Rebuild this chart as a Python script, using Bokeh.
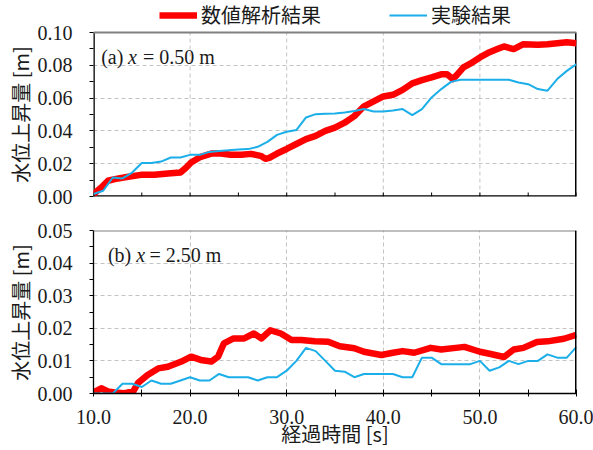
import math
from bokeh.plotting import figure
from bokeh.layouts import column, row
from bokeh.models import (FixedTicker, NumeralTickFormatter, Label, Legend,
                          LegendItem, Span, Range1d)
from bokeh.embed import file_html
from bokeh.resources import INLINE

# ---------------- data ----------------
# (a) x = 0.50 m
t_sim_a = [10.0, 10.8, 11.5, 12.2, 13.6, 14.9, 16.3, 17.7, 19.0, 19.6, 20.1, 21.1,
           22.2, 23.2, 24.2, 25.3, 26.3, 27.3, 27.8, 28.2, 29.0, 30.0, 31.0, 32.0,
           33.0, 34.0, 35.0, 36.0, 37.0, 38.0, 39.0, 40.0, 41.0, 42.0, 43.0, 44.0,
           45.0, 46.0, 46.6, 47.2, 47.6, 48.3, 49.0, 50.0, 51.0, 51.8, 52.5, 53.5,
           54.5, 56.0, 57.0, 58.0, 59.0, 60.0]
h_sim_a = [0.0015, 0.0055, 0.0096, 0.0106, 0.0120, 0.0132, 0.0132, 0.0140, 0.0146,
           0.0177, 0.0207, 0.0242, 0.0262, 0.0262, 0.0254, 0.0254, 0.0260, 0.0248,
           0.0230, 0.0236, 0.0262, 0.0290, 0.0320, 0.0350, 0.0370, 0.0400, 0.0420,
           0.0450, 0.0490, 0.0550, 0.0580, 0.0610, 0.0620, 0.0650, 0.0690, 0.0710,
           0.0726, 0.0745, 0.0746, 0.0716, 0.0740, 0.0787, 0.0810, 0.0848, 0.0880,
           0.0899, 0.0915, 0.0899, 0.0929, 0.0925, 0.0929, 0.0935, 0.0940, 0.0935]

t_exp = list(range(10, 61))
h_exp_a = [0.0015, 0.0035, 0.0116, 0.0110, 0.0146, 0.0204, 0.0204, 0.0213, 0.0238,
           0.0238, 0.0254, 0.0254, 0.0272, 0.0278, 0.0282, 0.0286, 0.0289, 0.0303,
           0.0333, 0.0376, 0.0395, 0.0405, 0.0482, 0.0502, 0.0505, 0.0506, 0.0512,
           0.0522, 0.0533, 0.0518, 0.0518, 0.0525, 0.0533, 0.0496, 0.0533, 0.0604,
           0.0655, 0.0699, 0.0712, 0.0712, 0.0712, 0.0712, 0.0712, 0.0712, 0.0695,
           0.0685, 0.0655, 0.0645, 0.0716, 0.0766, 0.0807]

# (b) x = 2.50 m
t_sim_b = [10.0, 10.8, 11.5, 12.2, 13.2, 14.1, 14.6, 15.6, 16.7, 17.7, 19.1, 20.1,
           21.1, 22.2, 22.9, 23.5, 24.5, 25.6, 26.6, 27.4, 28.3, 29.4, 30.5, 31.5,
           32.9, 34.3, 35.5, 37.0, 38.0, 39.8, 41.0, 42.0, 43.2, 44.9, 46.0, 47.5,
           48.4, 50.0, 51.0, 52.5, 53.5, 54.5, 55.9, 57.0, 58.7, 60.0]
h_sim_b = [0.0003, 0.0016, 0.0006, 0.0003, 0.0001, 0.0006, 0.0032, 0.0057, 0.0077,
           0.0082, 0.0098, 0.0113, 0.0103, 0.0098, 0.0113, 0.0154, 0.0169, 0.0169,
           0.0184, 0.0169, 0.0194, 0.0184, 0.0164, 0.0164, 0.0160, 0.0159, 0.0145,
           0.0139, 0.0128, 0.0118, 0.0125, 0.0130, 0.0125, 0.0140, 0.0135, 0.0140,
           0.0143, 0.0128, 0.0122, 0.0112, 0.0135, 0.0140, 0.0158, 0.0160, 0.0168,
           0.0180]
h_exp_b = [0.000, 0.000, 0.000, 0.003, 0.003, 0.002, 0.004, 0.003, 0.003, 0.004,
           0.005, 0.004, 0.004, 0.006, 0.005, 0.005, 0.005, 0.004, 0.005, 0.005,
           0.007, 0.010, 0.014, 0.013, 0.010, 0.007, 0.0067, 0.005, 0.006, 0.006,
           0.006, 0.006, 0.005, 0.005, 0.011, 0.011, 0.009, 0.009, 0.009, 0.009,
           0.010, 0.007, 0.008, 0.010, 0.009, 0.010, 0.010, 0.012, 0.011, 0.011,
           0.0143]

x_ticks = [10, 20, 30, 40, 50, 60]
x_minor = [15, 25, 35, 45, 55]
y_ticks_a = [0.00, 0.02, 0.04, 0.06, 0.08, 0.10]
y_minor_a = [0.01, 0.03, 0.05, 0.07, 0.09]
y_ticks_b = [0.00, 0.01, 0.02, 0.03, 0.04, 0.05]
y_minor_b = [0.005, 0.015, 0.025, 0.035, 0.045]

legend_labels = ["数値解析結果", "実験結果"]
y_title = "水位上昇量 [m]"
x_title = "経過時間 [s]"

RED = "#FF0000"
BLUE = "#1BAEE8"
SERIF = "Liberation Serif"
CJK = "Noto Sans CJK JP"
GRID = "#c4c4c4"
TXT = "#1a1a1a"

TW = 34          # width of the strip holding the vertical titles
PW = 593 - TW    # width of each panel figure
F = 164          # plotting area height of each panel (px)
LEG = 32         # room for the legend above the top panel (px)
GAP = 17         # border below panel (a) and above panel (b)
BOT = 57         # border under panel (b)
H1 = LEG + F + GAP
H2 = GAP + F + BOT - 1


def style_axes(p, yt, ym):
    p.outline_line_color = None
    p.background_fill_color = "white"
    p.border_fill_color = "white"
    p.xaxis.ticker = FixedTicker(ticks=x_ticks, minor_ticks=x_minor)
    p.yaxis.ticker = FixedTicker(ticks=yt, minor_ticks=ym)
    p.xaxis.formatter = NumeralTickFormatter(format="0.0")
    p.yaxis.formatter = NumeralTickFormatter(format="0.00")
    for ax in (p.xaxis, p.yaxis):
        ax.axis_line_color = "black"
        ax.axis_line_width = 1.3
        ax.major_tick_line_color = "black"
        ax.minor_tick_line_color = "black"
        ax.major_tick_line_width = 1
        ax.minor_tick_line_width = 1
        ax.major_label_text_font = SERIF
        ax.major_label_text_font_size = "20px"
        ax.major_label_text_color = TXT
    p.yaxis.major_tick_in = 0
    p.yaxis.major_tick_out = 4
    p.yaxis.minor_tick_in = 0
    p.yaxis.minor_tick_out = 4
    p.yaxis.major_label_standoff = 17
    p.ygrid.ticker = FixedTicker(ticks=yt[1:-1])
    p.ygrid.grid_line_color = GRID
    p.ygrid.grid_line_dash = "4 3"
    p.ygrid.grid_line_width = 1


def panel_label(p, ymax, tag, val, offs):
    common = dict(x=10, y=ymax, y_offset=-24, text_baseline="alphabetic",
                  text_font=SERIF, text_font_size="20px", text_color=TXT)
    p.add_layout(Label(x_offset=offs[0], text=tag, **common))
    p.add_layout(Label(x_offset=offs[1], text="x", text_font_style="italic", **common))
    p.add_layout(Label(x_offset=offs[2], text="= " + val, **common))


# ---------------- strip with the two vertical axis titles ----------------
pt = figure(width=TW, height=H1 + H2, x_range=Range1d(0, TW),
            y_range=Range1d(0, H1 + H2), output_backend="svg",
            toolbar_location=None, min_border=0)
pt.axis.visible = False
pt.grid.visible = False
pt.outline_line_color = None
for yc in (H2 + GAP + F / 2.0, H2 - GAP - F / 2.0):
    pt.add_layout(Label(x=20, y=yc, text=y_title, angle=math.pi / 2,
                        text_align="center", text_baseline="middle",
                        text_font=CJK, text_font_size="20px", text_color=TXT))

# ---------------- top panel (legend room included in its frame) ----------------
ymax_a = 0.10
ytop_a = ymax_a * (F + LEG) / F
p1 = figure(width=PW, height=H1,
            x_range=Range1d(10, 60), y_range=Range1d(0, ytop_a),
            output_backend="svg", toolbar_location=None,
            min_border_left=92 - TW, min_border_right=17,
            min_border_top=0, min_border_bottom=GAP)
style_axes(p1, y_ticks_a, y_minor_a)
p1.yaxis.axis_line_color = None
p1.xaxis.visible = False
p1.xgrid.visible = False

gx = [20, 30, 40, 50]
p1.segment(x0=gx, y0=[0] * 4, x1=gx, y1=[ymax_a] * 4, line_color=GRID,
           line_width=1, line_dash="4 3")
p1.segment(x0=[10], y0=[0], x1=[10], y1=[ymax_a], line_color="black", line_width=2.6)
p1.segment(x0=[60], y0=[0], x1=[60], y1=[ymax_a], line_color="black", line_width=3)
p1.segment(x0=[10], y0=[0], x1=[60], y1=[0], line_color="black", line_width=2.6)
p1.segment(x0=[10], y0=[ymax_a], x1=[60], y1=[ymax_a], line_color="#808080",
           line_width=2)
tick_len = ymax_a * 4.0 / F
tx = x_ticks + x_minor
p1.segment(x0=tx, y0=[0] * len(tx), x1=tx, y1=[tick_len] * len(tx),
           line_color="black", line_width=1)

r_sim_a = p1.line(t_sim_a, h_sim_a, line_color=RED, line_width=6.5, line_join="round")
r_exp_a = p1.line(t_exp, h_exp_a, line_color=BLUE, line_width=2)
panel_label(p1, ymax_a, "(a)", "0.50 m", (7.7, 34.4, 49.4))

legend = Legend(items=[LegendItem(label=legend_labels[0], renderers=[r_sim_a]),
                       LegendItem(label=legend_labels[1], renderers=[r_exp_a])],
                orientation="horizontal", location=(66, F + 3),
                glyph_width=38, glyph_height=18, label_height=18,
                label_standoff=4, spacing=68, padding=0, margin=0,
                label_text_font=CJK, label_text_font_size="20px",
                label_text_color=TXT, label_text_baseline="middle",
                border_line_color=None, background_fill_alpha=0)
p1.add_layout(legend)

# ---------------- bottom panel ----------------
ymax_b = 0.05
p2 = figure(width=PW, height=H2,
            x_range=Range1d(10, 60), y_range=Range1d(0, ymax_b),
            output_backend="svg", toolbar_location=None,
            min_border_left=92 - TW, min_border_right=17,
            min_border_top=GAP, min_border_bottom=BOT - 1)
style_axes(p2, y_ticks_b, y_minor_b)
p2.xaxis.major_tick_in = 4
p2.xaxis.major_tick_out = 3
p2.xaxis.minor_tick_in = 4
p2.xaxis.minor_tick_out = 3
p2.xaxis.major_label_standoff = 13
p2.xaxis.axis_label = x_title
p2.xaxis.axis_label_text_font = CJK
p2.xaxis.axis_label_text_font_size = "20px"
p2.xaxis.axis_label_text_font_style = "normal"
p2.xaxis.axis_label_text_color = TXT
p2.xaxis.axis_label_standoff = -8
p2.xgrid.ticker = FixedTicker(ticks=gx)
p2.xgrid.grid_line_color = GRID
p2.xgrid.grid_line_dash = "4 3"
p2.xgrid.grid_line_width = 1
p2.add_layout(Span(location=ymax_b, dimension="width", line_color="#808080",
                   line_width=2))
p2.add_layout(Span(location=60, dimension="height", line_color="black",
                   line_width=3))

p2.line(t_sim_b, h_sim_b, line_color=RED, line_width=6.5, line_join="round")
p2.line(t_exp, h_exp_b, line_color=BLUE, line_width=2)
panel_label(p2, ymax_b, "(b)", "2.50 m", (14.4, 42.7, 56.0))

layout = row(pt, column(p1, p2, spacing=0), spacing=0)
open("out.html", "w").write(file_html(layout, INLINE))
